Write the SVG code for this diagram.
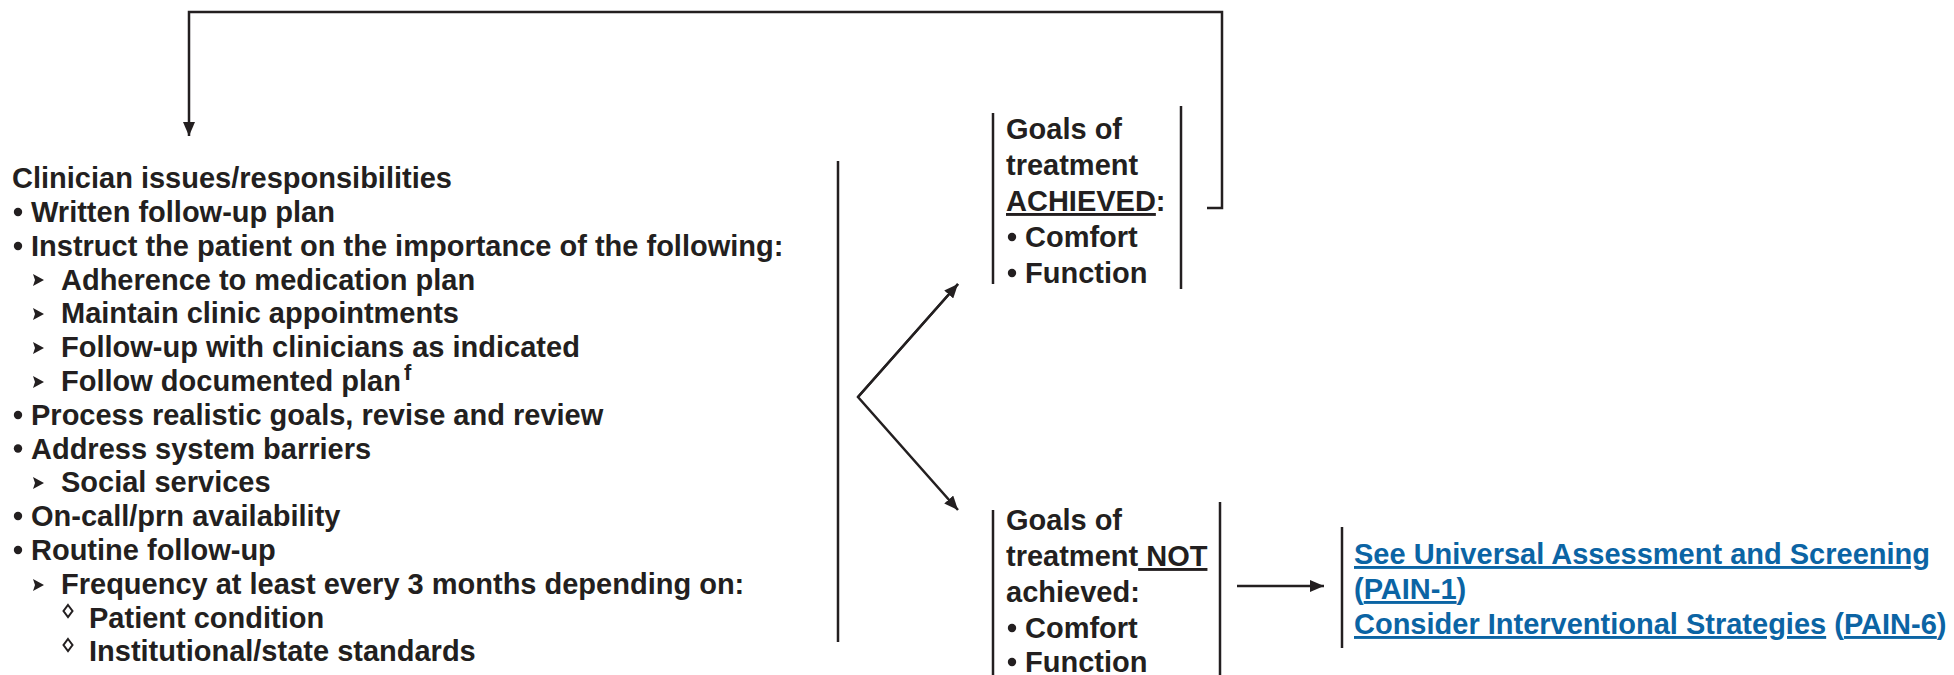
<svg xmlns="http://www.w3.org/2000/svg" width="1954" height="675" viewBox="0 0 1954 675">
  <style>
    .t { font-family: "Liberation Sans", Arial, Helvetica, sans-serif; font-weight: bold; font-size: 29px; fill: #231f20; }
    .sup { font-size: 22px; }
    .u { text-decoration: underline; }
    .link { fill: #0b64a4; }
    .bar { stroke: #231f20; stroke-width: 2.5; fill: none; }
    .conn { stroke: #231f20; stroke-width: 2.5; fill: none; }
    .dot { fill: #231f20; }
    .tri { fill: #231f20; }
    .dia { fill: none; stroke: #231f20; stroke-width: 2; }
  </style>
  <defs>
    <marker id="arrow" markerUnits="userSpaceOnUse" markerWidth="15" markerHeight="12" refX="14" refY="6" orient="auto">
      <path d="M0,0 L14,6 L0,12 z" fill="#231f20"/>
    </marker>
  </defs>

  <rect width="1954" height="675" fill="#ffffff"/>

  <!-- connectors -->
  <g id="connectors">
    <path class="conn" d="M1207,208 H1222 V12 H189 V136" marker-end="url(#arrow)"/>
    <path class="conn" d="M958,284 L858,397 L958,510" marker-end="url(#arrow)"/>
    <path class="conn" d="M858,397 L958,284" marker-end="url(#arrow)"/>
    <path class="conn" d="M1237,586 H1324" marker-end="url(#arrow)"/>
  </g>

  <!-- clinician responsibilities -->
  <g id="node-clinician">
    <line class="bar" x1="838" y1="161" x2="838" y2="642"/>
    <text class="t" x="12" y="188">Clinician issues/responsibilities</text>

    <circle class="dot" cx="18" cy="212" r="4.2"/>
    <text class="t" x="31" y="222">Written follow-up plan</text>
    <circle class="dot" cx="18" cy="246" r="4.2"/>
    <text class="t" x="31" y="256">Instruct the patient on the importance of the following:</text>

    <polygon class="tri" points="33,274 44,280 33,286 35,280"/>
    <text class="t" x="61" y="289.5">Adherence to medication plan</text>
    <polygon class="tri" points="33,308 44,314 33,320 35,314"/>
    <text class="t" x="61" y="323">Maintain clinic appointments</text>
    <polygon class="tri" points="33,342 44,348 33,354 35,348"/>
    <text class="t" x="61" y="357">Follow-up with clinicians as indicated</text>
    <polygon class="tri" points="33,376 44,382 33,388 35,382"/>
    <text class="t" x="61" y="391">Follow documented plan<tspan class="sup" dx="3" dy="-11">f</tspan></text>

    <circle class="dot" cx="18" cy="415" r="4.2"/>
    <text class="t" x="31" y="425">Process realistic goals, revise and review</text>
    <circle class="dot" cx="18" cy="448.5" r="4.2"/>
    <text class="t" x="31" y="458.5">Address system barriers</text>
    <polygon class="tri" points="33,477 44,483 33,489 35,483"/>
    <text class="t" x="61" y="492">Social services</text>
    <circle class="dot" cx="18" cy="516" r="4.2"/>
    <text class="t" x="31" y="526">On-call/prn availability</text>
    <circle class="dot" cx="18" cy="550" r="4.2"/>
    <text class="t" x="31" y="560">Routine follow-up</text>
    <polygon class="tri" points="33,579 44,585 33,591 35,585"/>
    <text class="t" x="61" y="594">Frequency at least every 3 months depending on:</text>
    <polygon class="dia" points="68,605 72.5,611 68,617 63.5,611"/>
    <text class="t" x="89" y="627.5">Patient condition</text>
    <polygon class="dia" points="68,639 72.5,645 68,651 63.5,645"/>
    <text class="t" x="89" y="661">Institutional/state standards</text>
  </g>

  <!-- goals achieved -->
  <g id="node-achieved">
    <line class="bar" x1="993" y1="113" x2="993" y2="284"/>
    <line class="bar" x1="1181" y1="106" x2="1181" y2="289"/>
    <text class="t" x="1006" y="139">Goals of</text>
    <text class="t" x="1006" y="175">treatment</text>
    <text class="t" x="1006" y="211"><tspan class="u">ACHIEVED</tspan>:</text>
    <circle class="dot" cx="1012" cy="237" r="4.2"/>
    <text class="t" x="1025" y="247">Comfort</text>
    <circle class="dot" cx="1012" cy="273" r="4.2"/>
    <text class="t" x="1025" y="283">Function</text>
  </g>

  <!-- goals not achieved -->
  <g id="node-not-achieved">
    <line class="bar" x1="993" y1="510" x2="993" y2="675"/>
    <line class="bar" x1="1220" y1="502" x2="1220" y2="675"/>
    <text class="t" x="1006" y="530">Goals of</text>
    <text class="t" x="1006" y="566" xml:space="preserve">treatment<tspan class="u"> NOT</tspan></text>
    <text class="t" x="1006" y="602">achieved:</text>
    <circle class="dot" cx="1012" cy="628" r="4.2"/>
    <text class="t" x="1025" y="638">Comfort</text>
    <circle class="dot" cx="1012" cy="662" r="4.2"/>
    <text class="t" x="1025" y="672">Function</text>
  </g>

  <!-- references -->
  <g id="node-references">
    <line class="bar" x1="1342" y1="527" x2="1342" y2="648"/>
    <text class="t link" x="1354" y="564"><tspan class="u">See Universal Assessment and Screening</tspan></text>
    <text class="t link" x="1354" y="599">(<tspan class="u">PAIN-1</tspan>)</text>
    <text class="t link" x="1354" y="634"><tspan class="u">Consider Interventional Strategies</tspan> (<tspan class="u">PAIN-6</tspan>)</text>
  </g>
</svg>
